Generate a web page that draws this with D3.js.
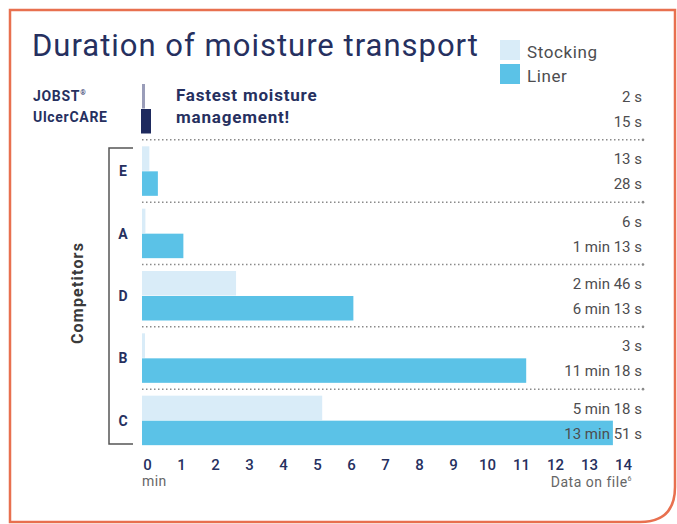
<html>
<head>
<script src="https://d3js.org/d3.v7.min.js"></script>
<style>
body { margin: 0; background: #fff; }
text { font-family: Roboto, "Open Sans", sans-serif; }
</style>
</head>
<body>
<svg width="677" height="524"></svg>
<script>
// values in seconds
var rows = ["JOBST", "E", "A", "D", "B", "C"]
var stocking = [2, 13, 6, 166, 3, 318]
var liner = [15, 28, 73, 373, 678, 831]
var ticks = [0,1,2,3,4,5,6,7,8,9,10,11,12,13,14]

var navy = "#26305f"
var grey = "#4d4d4f"

var svg = d3.select("svg")

var x = d3.scaleLinear().domain([0, 14]).range([142, 618])
var y = d3.scaleBand().domain(rows).range([77, 451])

function fmt(s) {
  var m = Math.floor(s / 60), r = s % 60
  return m > 0 ? m + " min " + r + " s" : r + " s"
}
function w(s) { return Math.max(x(s / 60) - x(0), 3) }

// frame
svg.append("path")
  .attr("d", "M10,10 H675 V487 Q675,522 640,522 H10 Z")
  .attr("fill", "none").attr("stroke", "#e8704f").attr("stroke-width", 2.5)

// title
svg.append("text").attr("x", 32).attr("y", 56)
  .attr("font-size", 31).attr("letter-spacing", 1).attr("fill", navy).text("Duration of moisture transport")

// legend
svg.append("rect").attr("x", 500).attr("y", 40).attr("width", 20).attr("height", 20).attr("fill", "#d9ecf8")
svg.append("rect").attr("x", 500).attr("y", 64).attr("width", 20).attr("height", 20).attr("fill", "#5bc2e7")
svg.append("text").attr("x", 527).attr("y", 58).attr("font-size", 17).attr("letter-spacing", 0.6).attr("fill", grey).text("Stocking")
svg.append("text").attr("x", 527).attr("y", 82).attr("font-size", 17).attr("letter-spacing", 0.6).attr("fill", grey).text("Liner")

// dotted separators
svg.selectAll(".sep").data(rows.slice(1)).enter().append("line")
  .attr("x1", 142).attr("x2", 643)
  .attr("y1", function(d){ return y(d) + 0.5 }).attr("y2", function(d){ return y(d) + 0.5 })
  .attr("stroke", "#8a8a8a").attr("stroke-width", 1.5).attr("stroke-dasharray", "1.5,2.5")
svg.selectAll(".sepdot").data(rows.slice(1)).enter().append("circle")
  .attr("cx", 643).attr("cy", function(d){ return y(d) + 0.5 }).attr("r", 1.3).attr("fill", "#8a8a8a")

// bars
svg.selectAll(".stk").data(rows).enter().append("rect")
  .attr("x", x(0)).attr("y", function(d){ return y(d) + 7 })
  .attr("width", function(d, i){ return w(stocking[i]) })
  .attr("height", 24.5)
  .attr("fill", function(d, i){ return i == 0 ? "#9a9db9" : "#d9ecf8" })
svg.selectAll(".lin").data(rows).enter().append("rect")
  .attr("x", function(d, i){ return i == 0 ? x(0) - 1 : x(0) }).attr("y", function(d){ return y(d) + 32 })
  .attr("width", function(d, i){ return i == 0 ? 10 : w(liner[i]) })
  .attr("height", 24.5)
  .attr("fill", function(d, i){ return i == 0 ? "#1e2a5e" : "#5bc2e7" })

// value labels
svg.selectAll(".vs").data(rows).enter().append("text")
  .attr("x", 642).attr("y", function(d){ return y(d) + 25 })
  .attr("text-anchor", "end").attr("font-size", 15).attr("fill", grey)
  .text(function(d, i){ return fmt(stocking[i]) })
svg.selectAll(".vl").data(rows).enter().append("text")
  .attr("x", 642).attr("y", function(d){ return y(d) + 50 })
  .attr("text-anchor", "end").attr("font-size", 15).attr("fill", grey)
  .text(function(d, i){ return fmt(liner[i]) })

// category letters
svg.selectAll(".cat").data(rows.slice(1)).enter().append("text")
  .attr("x", 123).attr("y", function(d){ return y(d) + 37 })
  .attr("text-anchor", "middle").attr("font-size", 14).attr("font-weight", "bold").attr("fill", navy)
  .text(function(d){ return d })

// JOBST label
svg.append("text").attr("x", 33).attr("y", 101).attr("font-size", 14).attr("letter-spacing", 0.7).attr("font-weight", "bold").attr("fill", navy)
  .text("JOBST").append("tspan").attr("font-size", 7).attr("dy", -6).text("®")
svg.append("text").attr("x", 33).attr("y", 122).attr("font-size", 14).attr("letter-spacing", 0.7).attr("font-weight", "bold").attr("fill", navy).text("UlcerCARE")
svg.append("text").attr("x", 176).attr("y", 101).attr("font-size", 17).attr("letter-spacing", 0.8).attr("font-weight", "bold").attr("fill", navy).text("Fastest moisture")
svg.append("text").attr("x", 176).attr("y", 123).attr("font-size", 17).attr("letter-spacing", 0.8).attr("font-weight", "bold").attr("fill", navy).text("management!")

// bracket + competitors
svg.append("path").attr("d", "M133,148 H109 V444 H133").attr("fill", "none").attr("stroke", "#555").attr("stroke-width", 1.5)
svg.append("text").attr("transform", "translate(83,293) rotate(-90)")
  .attr("text-anchor", "middle").attr("font-size", 16).attr("letter-spacing", 1.2).attr("font-weight", "bold").attr("fill", "#3a3a3a").text("Competitors")

// x axis
var ax = svg.append("g").attr("transform", "translate(0,456)")
  .call(d3.axisBottom(x).tickValues(ticks).tickSize(0).tickFormat(d3.format("d")))
ax.select(".domain").remove()
ax.selectAll("text").attr("dx", 5).attr("font-size", 15).attr("font-weight", 500)
  .attr("fill", navy).style("font-family", "Roboto, sans-serif")

svg.append("text").attr("x", 142).attr("y", 486).attr("font-size", 14).attr("letter-spacing", 0.4).attr("fill", "#666").text("min")
svg.append("text").attr("x", 632).attr("y", 487).attr("text-anchor", "end").attr("font-size", 14).attr("letter-spacing", 0.5).attr("fill", "#666")
  .text("Data on file").append("tspan").attr("font-size", 7).attr("dy", -6).text("6")
</script>
</body>
</html>
